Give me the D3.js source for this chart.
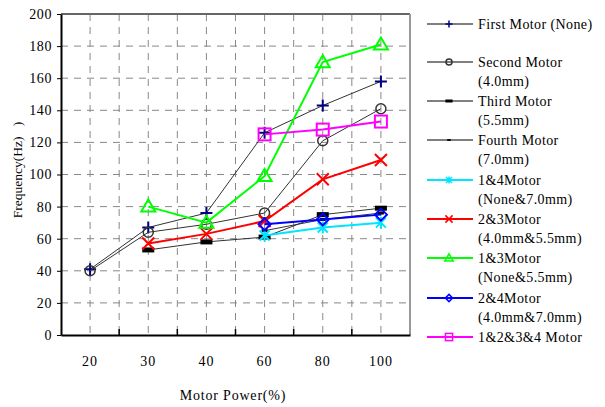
<!DOCTYPE html>
<html>
<head>
<meta charset="utf-8">
<script src="https://cdn.jsdelivr.net/npm/d3@7"></script>
<style>
body { margin: 0; background: #fff; }
</style>
</head>
<body>
<svg id="pic" width="605" height="407"></svg>
<script>
var categories = ["20", "30", "40", "60", "80", "100"];
var yTicks = [0, 20, 40, 60, 80, 100, 120, 140, 160, 180, 200];

// series values (null = no point)
var firstMotor  = [41, 67, 76, 126, 143, 158];
var secondMotor = [40, 64, 69, 76, 121, 141];
var thirdMotor  = [null, 53, 58, 61, 75, 79];
var fourthMotor = [null, null, null, 65, 72, 76];
var motor14     = [null, null, null, 62, 67, 70];
var motor23     = [null, 57, 63, 71, 97, 109];
var motor13     = [null, 80, 70, 99, 170, 181];
var motor24     = [null, null, null, 69, 72, 75];
var motor1234   = [null, null, null, 125, 128, 133];

var names = [
  ["First Motor (None)"],
  ["Second Motor", "(4.0mm)"],
  ["Third Motor", "(5.5mm)"],
  ["Fourth Motor", "(7.0mm)"],
  ["1&4Motor", "(None&7.0mm)"],
  ["2&3Motor", "(4.0mm&5.5mm)"],
  ["1&3Motor", "(None&5.5mm)"],
  ["2&4Motor", "(4.0mm&7.0mm)"],
  ["1&2&3&4 Motor"]
];

var series = [
  {vals: firstMotor,  line: "#333", lw: 1, mark: "plus",  col: "#000080"},
  {vals: secondMotor, line: "#333", lw: 1, mark: "circle", col: "#333"},
  {vals: thirdMotor,  line: "#333", lw: 1, mark: "dash",  col: "#000"},
  {vals: fourthMotor, line: "#333", lw: 1, mark: "sdash", col: "#000"},
  {vals: motor14,     line: "#00e5ff", lw: 2, mark: "star", col: "#00e5ff"},
  {vals: motor23,     line: "#ff0000", lw: 2, mark: "x",    col: "#ff0000"},
  {vals: motor13,     line: "#00ff00", lw: 2, mark: "tri",  col: "#00ff00"},
  {vals: motor24,     line: "#0000ff", lw: 2, mark: "diam", col: "#0000ff"},
  {vals: motor1234,   line: "#ff00ff", lw: 2, mark: "sq",   col: "#ff00ff"}
];

var FONT = "'Liberation Serif', 'Times New Roman', serif";

var svg = d3.select("#pic");

var x = d3.scaleBand().domain(categories).range([61, 410]);
var y = d3.scaleLinear().domain([0, 200]).range([335, 14]);
var xc = function(c){ return x(c) + x.bandwidth() / 2; };

// grid
var grid = svg.append("g").attr("stroke", "#888").attr("stroke-dasharray", "7,6").attr("stroke-width", 1);
yTicks.slice(1, -1).forEach(function(v){
  grid.append("line").attr("x1", 61).attr("x2", 410).attr("y1", y(v)).attr("y2", y(v));
});
categories.forEach(function(c, i){
  grid.append("line").attr("x1", xc(c)).attr("x2", xc(c)).attr("y1", 14).attr("y2", 335);
  if (i > 0) grid.append("line").attr("x1", x(c)).attr("x2", x(c)).attr("y1", 14).attr("y2", 335);
});

// frame
svg.append("line").attr("x1", 61).attr("x2", 410).attr("y1", 14).attr("y2", 14).attr("stroke", "#666").attr("stroke-width", 2);
svg.append("line").attr("x1", 410).attr("x2", 410).attr("y1", 14).attr("y2", 335).attr("stroke", "#999").attr("stroke-width", 2);

// axes
var yAxis = d3.axisLeft(y).tickValues(yTicks).tickSize(4).tickPadding(5).tickSizeOuter(0);
var gy = svg.append("g").attr("transform", "translate(61,0)").call(yAxis)
  .attr("font-family", FONT).attr("font-size", 14);
gy.select(".domain").attr("stroke", "#000").attr("stroke-width", 2);
gy.selectAll("text").attr("letter-spacing", 0.6);

var xAxis = d3.axisBottom(x).tickSize(0).tickPadding(21).tickSizeOuter(0);
var gx = svg.append("g").attr("transform", "translate(0,335)").call(xAxis)
  .attr("font-family", FONT).attr("font-size", 14);
gx.select(".domain").attr("stroke", "#000").attr("stroke-width", 2);
gx.selectAll("text").attr("letter-spacing", 1);
categories.slice(1).forEach(function(c){
  svg.append("line").attr("x1", x(c)).attr("x2", x(c)).attr("y1", 329).attr("y2", 335).attr("stroke", "#000").attr("stroke-width", 1.5);
});

// titles
svg.append("text").attr("x", 233).attr("y", 400).attr("text-anchor", "middle")
  .attr("font-family", FONT).attr("font-size", 14).attr("letter-spacing", 0.8).text("Motor Power(%)");
svg.append("text").attr("transform", "translate(22,170) rotate(-90)").attr("text-anchor", "middle")
  .attr("font-family", FONT).attr("font-size", 13.5)
  .style("white-space", "pre").text("Frequency(Hz)   )");

// markers
function marker(g, type, col, s, w){
  if (type === "plus") {
    g.append("path").attr("d", "M" + (-6*s) + ",0H" + (6*s) + "M0," + (-6*s) + "V" + (6*s))
      .attr("stroke", col).attr("stroke-width", w).attr("fill", "none");
  } else if (type === "circle") {
    g.append("circle").attr("r", 5 * s).attr("stroke", col).attr("stroke-width", 1.5).attr("fill", "none");
  } else if (type === "dash") {
    g.append("rect").attr("x", -6*s).attr("y", -2.5*s).attr("width", 12*s).attr("height", 5*s).attr("fill", col);
  } else if (type === "sdash") {
    g.append("rect").attr("x", -3*s).attr("y", -1.5*s).attr("width", 6*s).attr("height", 3*s).attr("fill", col);
  } else if (type === "star") {
    g.append("path").attr("d", "M0," + (-6*s) + "V" + (6*s) + "M" + (-5*s) + "," + (-5*s) + "L" + (5*s) + "," + (5*s) + "M" + (-5*s) + "," + (5*s) + "L" + (5*s) + "," + (-5*s))
      .attr("stroke", col).attr("stroke-width", w).attr("fill", "none");
  } else if (type === "x") {
    g.append("path").attr("d", "M" + (-6*s) + "," + (-6*s) + "L" + (6*s) + "," + (6*s) + "M" + (-6*s) + "," + (6*s) + "L" + (6*s) + "," + (-6*s))
      .attr("stroke", col).attr("stroke-width", w).attr("fill", "none");
  } else if (type === "tri") {
    g.append("path").attr("d", "M0," + (-7*s) + "L" + (7*s) + "," + (5*s) + "H" + (-7*s) + "Z")
      .attr("stroke", col).attr("stroke-width", w).attr("fill", "none");
  } else if (type === "diam") {
    g.append("path").attr("d", "M0," + (-6*s) + "L" + (6*s) + ",0L0," + (6*s) + "L" + (-6*s) + ",0Z")
      .attr("stroke", col).attr("stroke-width", w).attr("fill", "none");
  } else if (type === "sq") {
    g.append("rect").attr("x", -6*s).attr("y", -6*s).attr("width", 12*s).attr("height", 12*s)
      .attr("stroke", col).attr("stroke-width", w).attr("fill", "none");
  }
}

// lines and points
var line = d3.line()
  .defined(function(d){ return d.v !== null; })
  .x(function(d){ return xc(d.c); })
  .y(function(d){ return y(d.v); });

series.forEach(function(s){
  var pts = categories.map(function(c, i){ return {c: c, v: s.vals[i]}; });
  svg.append("path").datum(pts).attr("d", line).attr("fill", "none")
    .attr("stroke", s.line).attr("stroke-width", s.lw);
  pts.filter(function(d){ return d.v !== null; }).forEach(function(d){
    var g = svg.append("g").attr("transform", "translate(" + xc(d.c) + "," + y(d.v) + ")");
    marker(g, s.mark, s.col, 1, 2);
  });
});

// legend
var rowY = [24, 62, 101, 140, 180, 219, 258, 298, 337];
series.forEach(function(s, i){
  var ly = rowY[i];
  svg.append("line").attr("x1", 427).attr("x2", 473).attr("y1", ly).attr("y2", ly)
    .attr("stroke", s.lw > 1 ? s.line : "#000").attr("stroke-width", s.lw > 1 ? 2 : 1);
  var g = svg.append("g").attr("transform", "translate(449," + ly + ")");
  marker(g, s.mark, s.col, 0.6, 1.5);
  names[i].forEach(function(t, k){
    svg.append("text").attr("x", 478).attr("y", ly + k * 19).attr("dy", "0.35em")
      .attr("font-family", FONT).attr("font-size", 14).attr("letter-spacing", 0.4).text(t);
  });
});
</script>
</body>
</html>
